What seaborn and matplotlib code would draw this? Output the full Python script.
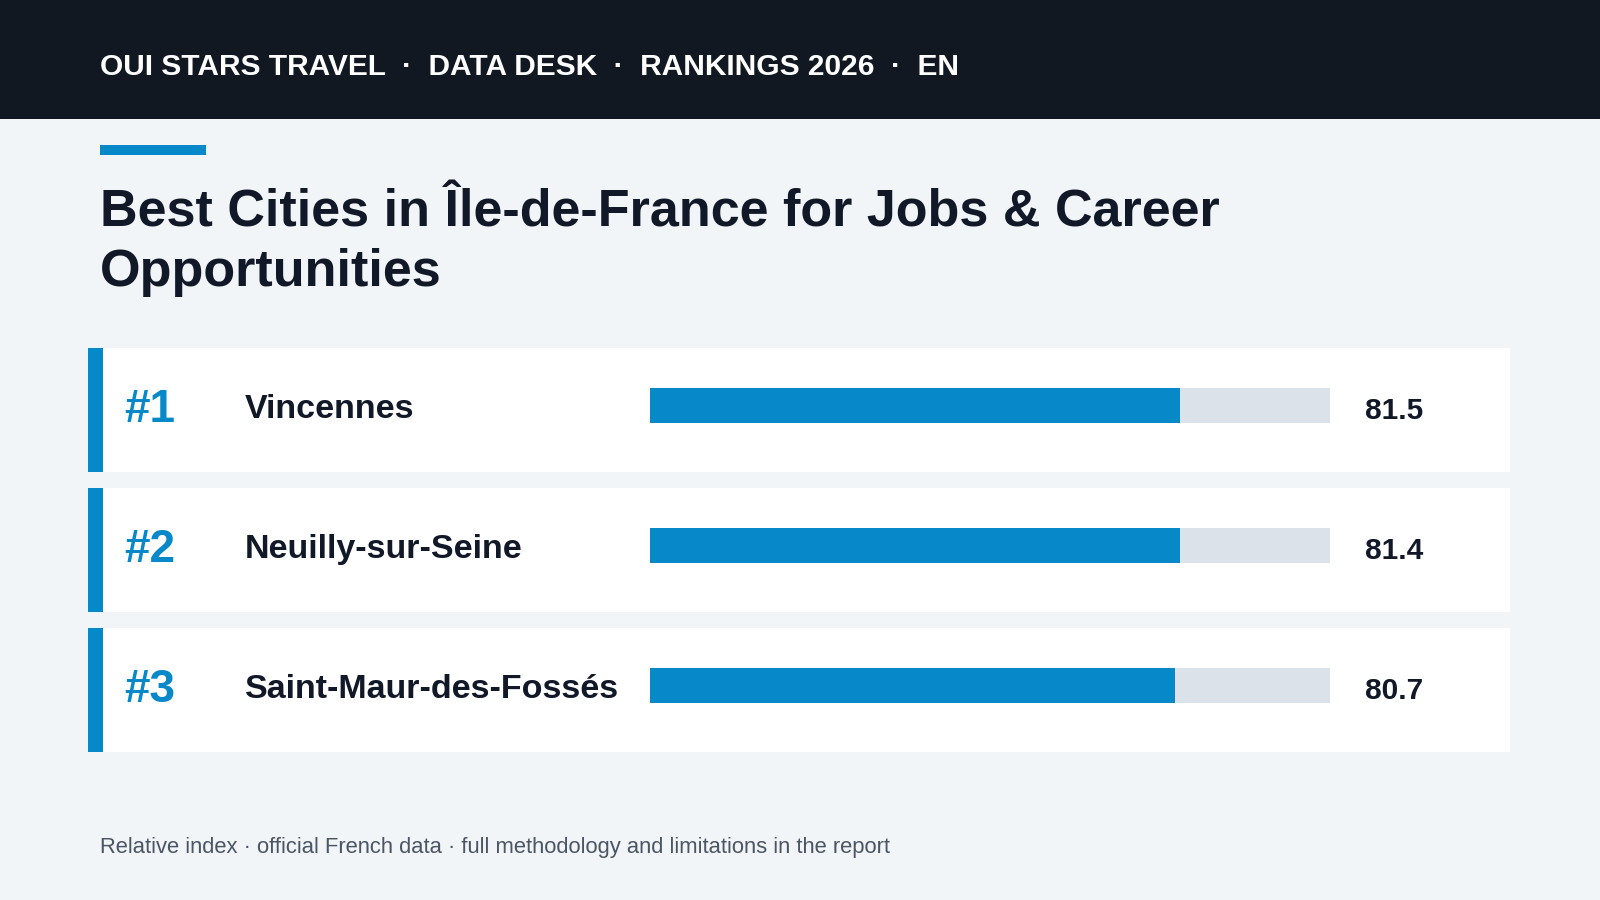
import matplotlib
matplotlib.use("Agg")
from matplotlib import pyplot as plt
from matplotlib.patches import Rectangle
import seaborn as sns
import pandas as pd

ranks = ["#1", "#2", "#3"]
cities = ["Vincennes", "Neuilly-sur-Seine", "Saint-Maur-des-Fossés"]
scores = [81.5, 81.4, 80.7]
value_labels = ["81.5", "81.4", "80.7"]

header = "OUI STARS TRAVEL  ·  DATA DESK  ·  RANKINGS 2026  ·  EN"
title = "Best Cities in Île-de-France for Jobs & Career\nOpportunities"
footer = "Relative index · official French data · full methodology and limitations in the report"

BLUE = "#0788C8"
TRACK = "#DCE2E9"
BG = "#F1F5F8"
DARK = "#121821"
INK = "#111827"
GREY = "#4B5563"
track_max = 104.5  # gray track length in score units

sns.set_theme(style="white")
plt.rcParams["font.family"] = ["Liberation Sans", "DejaVu Sans"]

W, H = 1600, 900
fig = plt.figure(figsize=(16, 9), dpi=100)
fig.patch.set_facecolor(BG)

# background canvas in pixel coords
bg = fig.add_axes([0, 0, 1, 1])
bg.set_xlim(0, W)
bg.set_ylim(H, 0)
bg.axis("off")

bg.add_patch(Rectangle((0, 0), W, 119, color=DARK, lw=0))
bg.text(100, 67, header, color="white", fontsize=21.5, fontweight="bold", va="center")
bg.add_patch(Rectangle((100, 145), 106, 10, color=BLUE, lw=0))
bg.text(100, 286, title, color=INK, fontsize=37.5, fontweight="bold",
        va="baseline", linespacing=1.27)

card_top, card_h, step = 348, 124, 140
for i, (r, c) in enumerate(zip(ranks, cities)):
    y0 = card_top + i * step
    bg.add_patch(Rectangle((88, y0), 15, card_h, color=BLUE, lw=0))
    bg.add_patch(Rectangle((103, y0), 1407, card_h, color="white", lw=0))
    bg.text(124, y0 + 74, r, color=BLUE, fontsize=33, fontweight="bold", va="baseline")
    bg.text(245, y0 + 70, c, color=INK, fontsize=24.5, fontweight="bold", va="baseline")
    bg.text(1365, y0 + 71, value_labels[i], color=INK, fontsize=21.5,
            fontweight="bold", va="baseline")

bg.text(100, 853, footer, color=GREY, fontsize=15.8, va="baseline")

# bars axes: track from x=650 to 1330 px, rows centred at 405, 545, 685 px
x0, x1 = 650, 1330
ytop, ybot = 335, 755
ax = fig.add_axes([x0 / W, 1 - ybot / H, (x1 - x0) / W, (ybot - ytop) / H])
ax.patch.set_alpha(0)

df = pd.DataFrame({"city": cities, "score": scores})
sns.barplot(data=df.assign(track=track_max), x="track", y="city", color=TRACK,
            width=0.25, saturation=1, linewidth=0, ax=ax)
sns.barplot(data=df, x="score", y="city", color=BLUE, width=0.25,
            saturation=1, linewidth=0, ax=ax)
ax.set_xlim(0, track_max)
ax.set_ylim(2.5, -0.5)
ax.axis("off")

fig.savefig("out.png", dpi=100, facecolor=BG)
